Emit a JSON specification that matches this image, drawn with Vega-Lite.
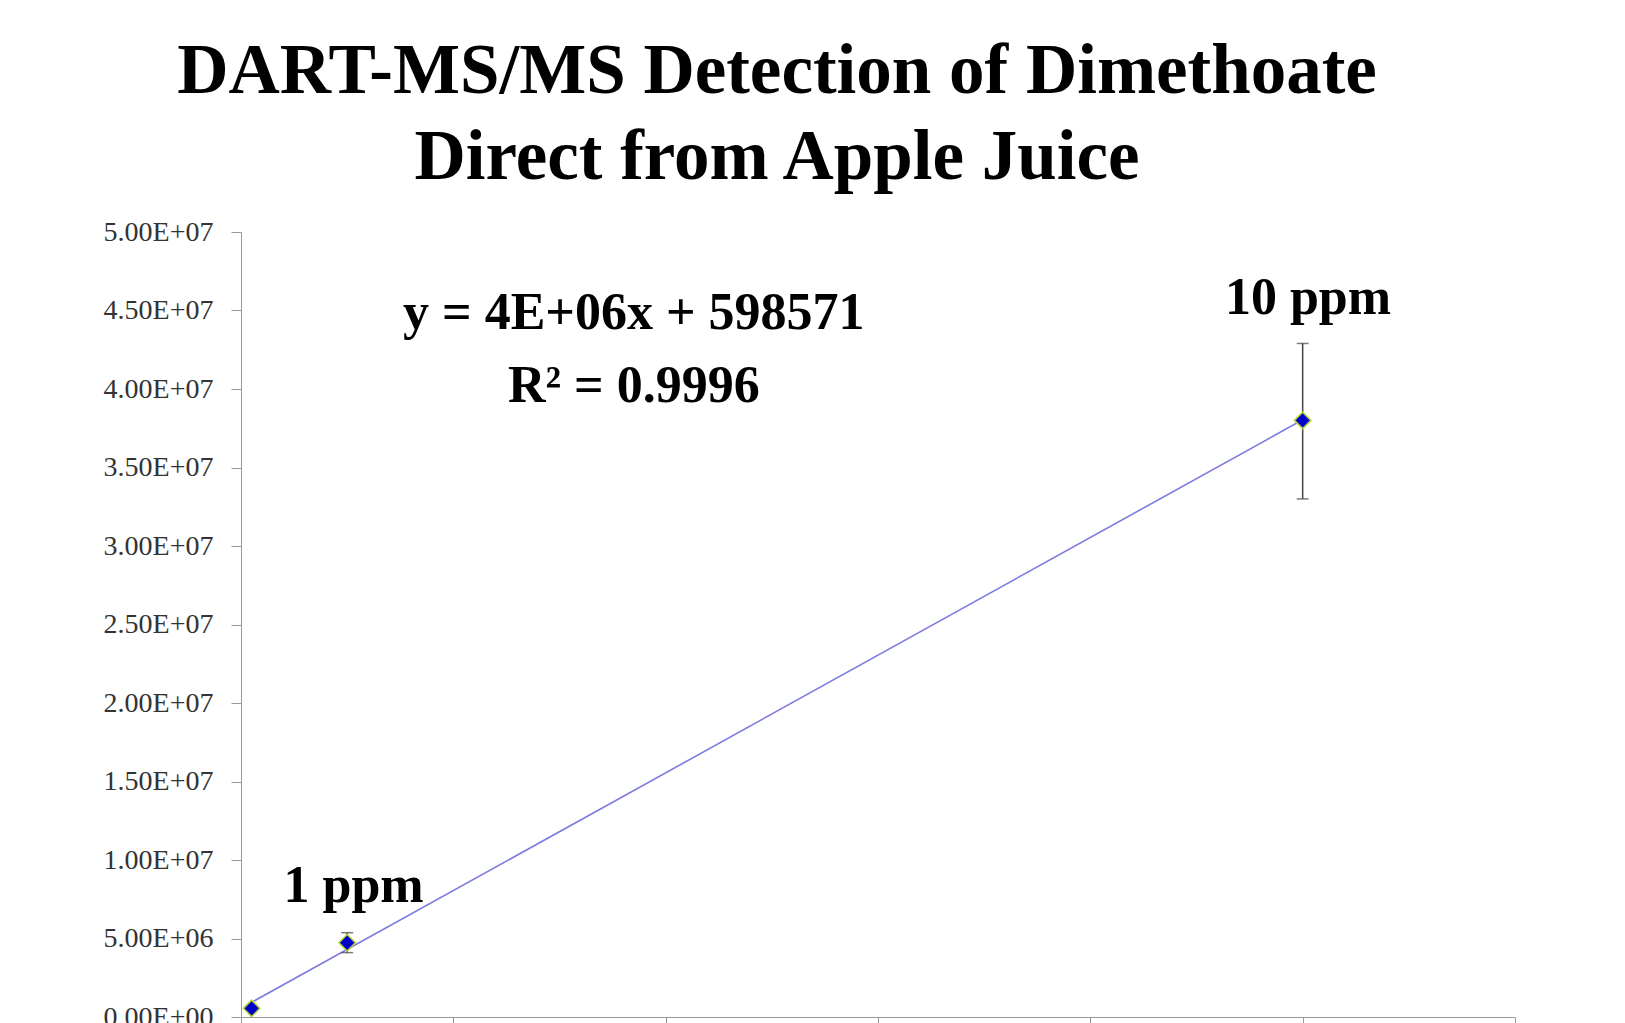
{
  "$schema": "https://vega.github.io/schema/vega-lite/v6.json",
  "width": 1274,
  "height": 785,
  "autosize": "none",
  "padding": {"left": 241, "top": 232, "right": 110, "bottom": 6},
  "background": "white",
  "title": {
    "text": ["DART-MS/MS Detection of Dimethoate", "Direct from Apple Juice"],
    "font": "Liberation Serif",
    "fontWeight": "bold",
    "fontSize": 71,
    "lineHeight": 86,
    "color": "#000000",
    "anchor": "middle",
    "dx": -101,
    "offset": 24
  },
  "config": {
    "view": {"stroke": null},
    "axis": {
      "grid": false,
      "domainColor": "#999999",
      "tickColor": "#999999",
      "tickSize": 10,
      "labelFont": "Liberation Serif",
      "labelFontSize": 28,
      "labelColor": "#333333",
      "labelPadding": 18,
      "title": null
    }
  },
  "datasets": {
    "pts": [
      {"ppm": 0.1, "signal": 550000, "lo": null, "hi": null},
      {"ppm": 1, "signal": 4730000, "lo": 4100000, "hi": 5370000},
      {"ppm": 10, "signal": 38000000, "lo": 33000000, "hi": 42900000}
    ],
    "labels": [
      {"x": 3.7, "y": 43850000, "t": "y = 4E+06x + 598571"},
      {"x": 3.7, "y": 39200000, "t": "R² = 0.9996"},
      {"x": 10.05, "y": 44800000, "t": "10 ppm"},
      {"x": 1.06, "y": 7340000, "t": "1 ppm"}
    ]
  },
  "layer": [
    {
      "data": {"name": "pts"},
      "transform": [{"regression": "signal", "on": "ppm"}],
      "mark": {"type": "line", "color": "#7b7be0", "strokeWidth": 1.6},
      "encoding": {
        "x": {"field": "ppm", "type": "quantitative", "scale": {"domain": [0, 12]}, "axis": {"values": [0, 2, 4, 6, 8, 10, 12], "labels": false}},
        "y": {"field": "signal", "type": "quantitative", "scale": {"domain": [0, 50000000]},
          "axis": {"values": [0, 5000000, 10000000, 15000000, 20000000, 25000000, 30000000, 35000000, 40000000, 45000000, 50000000],
            "labelExpr": "replace(format(datum.value, '.2e'), 'e+', 'E+0')"}}
      }
    },
    {
      "data": {"name": "pts"},
      "transform": [{"filter": "datum.hi != null"}],
      "mark": {"type": "rule", "color": "#444444", "strokeWidth": 1.5},
      "encoding": {
        "x": {"field": "ppm", "type": "quantitative"},
        "y": {"field": "lo", "type": "quantitative"},
        "y2": {"field": "hi"}
      }
    },
    {
      "data": {"name": "pts"},
      "transform": [{"filter": "datum.hi != null"}],
      "mark": {"type": "tick", "orient": "horizontal", "color": "#444444", "size": 12, "thickness": 1.5},
      "encoding": {
        "x": {"field": "ppm", "type": "quantitative"},
        "y": {"field": "lo", "type": "quantitative"}
      }
    },
    {
      "data": {"name": "pts"},
      "transform": [{"filter": "datum.hi != null"}],
      "mark": {"type": "tick", "orient": "horizontal", "color": "#444444", "size": 12, "thickness": 1.5},
      "encoding": {
        "x": {"field": "ppm", "type": "quantitative"},
        "y": {"field": "hi", "type": "quantitative"}
      }
    },
    {
      "data": {"name": "pts"},
      "mark": {"type": "point", "shape": "diamond", "filled": true, "fill": "#0000cc", "stroke": "#b5d334", "strokeWidth": 1.5, "size": 270, "opacity": 1},
      "encoding": {
        "x": {"field": "ppm", "type": "quantitative"},
        "y": {"field": "signal", "type": "quantitative"}
      }
    },
    {
      "data": {"name": "labels"},
      "mark": {"type": "text", "font": "Liberation Serif", "fontWeight": "bold", "fontSize": 52, "color": "#000000", "align": "center", "baseline": "alphabetic"},
      "encoding": {
        "x": {"field": "x", "type": "quantitative"},
        "y": {"field": "y", "type": "quantitative"},
        "text": {"field": "t"}
      }
    }
  ]
}
